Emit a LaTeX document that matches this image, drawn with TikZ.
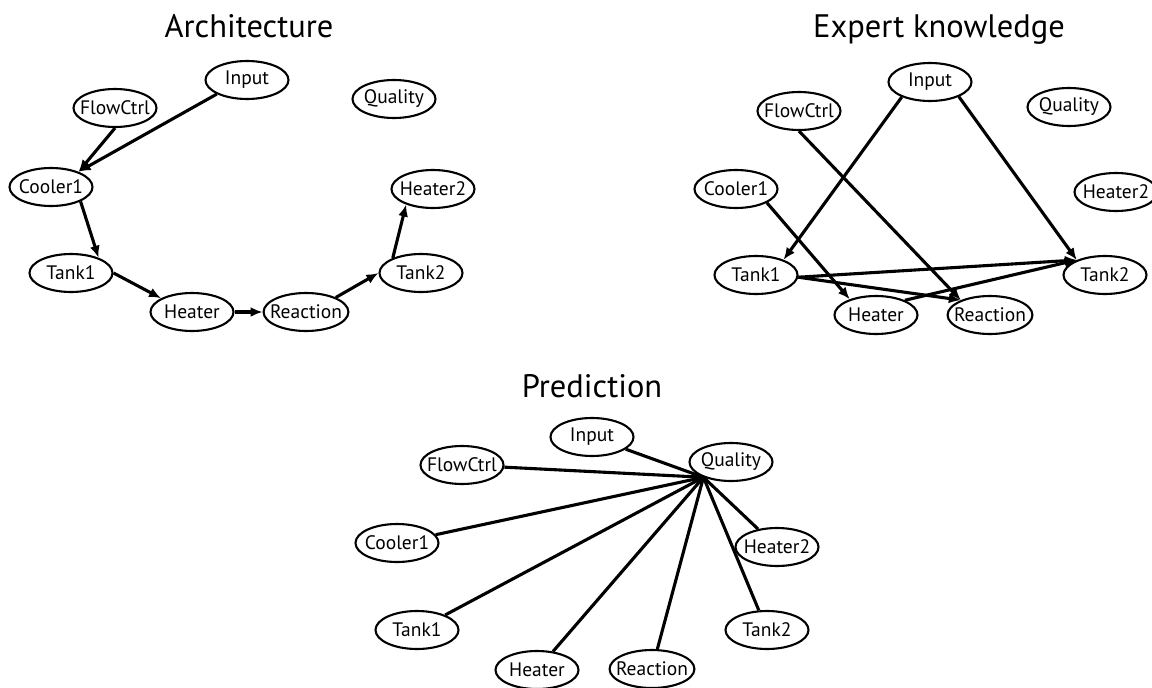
\documentclass[tikz,border=0pt]{standalone}
\usepackage{fontspec}
\setmainfont{PT Sans}
\usetikzlibrary{shapes.geometric,arrows.meta}

\begin{document}
\begin{tikzpicture}[x=1pt,y=-1pt,
        varnode/.style={ellipse,draw,line width=2.1pt,minimum width=83pt,minimum height=38pt,inner xsep=-6pt,inner ysep=0pt,font=\fontsize{19.5}{19.5}\selectfont},
        heading/.style={anchor=base,font=\fontsize{32.5}{32.5}\selectfont},
        link/.style={line width=3.1pt},
        >={Latex[length=12pt,width=10pt]}]
        \useasboundingbox (0,0) rectangle (1152,688);

        % architecture
        \node[heading] (tarch) at (249,37) {Architecture};
        \node[varnode] (ain) at (247,80) {Input};
        \node[varnode] (afc) at (115,108) {FlowCtrl};
        \node[varnode] (aq) at (394,99) {Quality};
        \node[varnode] (ac1) at (51,187) {Cooler1};
        \node[varnode] (ah2) at (433,189) {Heater2};
        \node[varnode] (at1) at (71,273) {Tank1};
        \node[varnode] (at2) at (421,273) {Tank2};
        \node[varnode] (ahe) at (192,312) {Heater};
        \node[varnode] (are) at (306,312) {Reaction};
        \draw[link,->] (ain.205) -- (ac1.29);
        \draw[link,->] (afc.270) -- (ac1.29);
        \draw[link,->] (ac1.334) -- (at1.29);
        \draw[link,->] (at1.east) -- (ahe.156);
        \draw[link,->] (ahe.east) -- (are.west);
        \draw[link,->] (are.26) -- (at2.west);
        \draw[link,->] (at2.152) -- (ah2.210);

        % expert knowledge
        \node[heading] (texp) at (939,37) {Expert knowledge};
        \node[varnode] (ein) at (930,82) {Input};
        \node[varnode] (efc) at (799,111) {FlowCtrl};
        \node[varnode] (eq) at (1069,107) {Quality};
        \node[varnode] (ec1) at (736,189) {Cooler1};
        \node[varnode] (eh2) at (1116,192) {Heater2};
        \node[varnode] (et1) at (756,275) {Tank1};
        \node[varnode] (et2) at (1105,275) {Tank2};
        \node[varnode] (ehe) at (876,315) {Heater};
        \node[varnode] (ere) at (990,315) {Reaction};
        \draw[link,->] (ein.208) -- (et1.29);
        \draw[link,->] (ein.333) -- (et2.152);
        \draw[link,->] (efc.270) -- (ere.153);
        \draw[link,->] (ec1.336) -- (ehe.149);
        \draw[link,->] (et1.357) -- (et2.152);
        \draw[link,->] (et1.357) -- (ere.153);
        \draw[link,->] (ehe.27) -- (et2.152);

        % prediction
        \node[heading] (tpred) at (592,397) {Prediction};
        \node[varnode] (pin) at (592,437) {Input};
        \node[varnode] (pq) at (731,462) {Quality};
        \node[varnode] (pfc) at (462,465) {FlowCtrl};
        \node[varnode] (pc1) at (397,543) {Cooler1};
        \node[varnode] (ph2) at (777,547) {Heater2};
        \node[varnode] (pt1) at (417,630) {Tank1};
        \node[varnode] (pt2) at (767,630) {Tank2};
        \node[varnode] (phe) at (537,670) {Heater};
        \node[varnode] (pre) at (652,669) {Reaction};
        \coordinate (hub) at (pq.209);
        \foreach \v in {pin,pfc,pc1,ph2,pt1,pt2,phe,pre}
            \draw[link] (\v) -- (hub);
\end{tikzpicture}
\end{document}
